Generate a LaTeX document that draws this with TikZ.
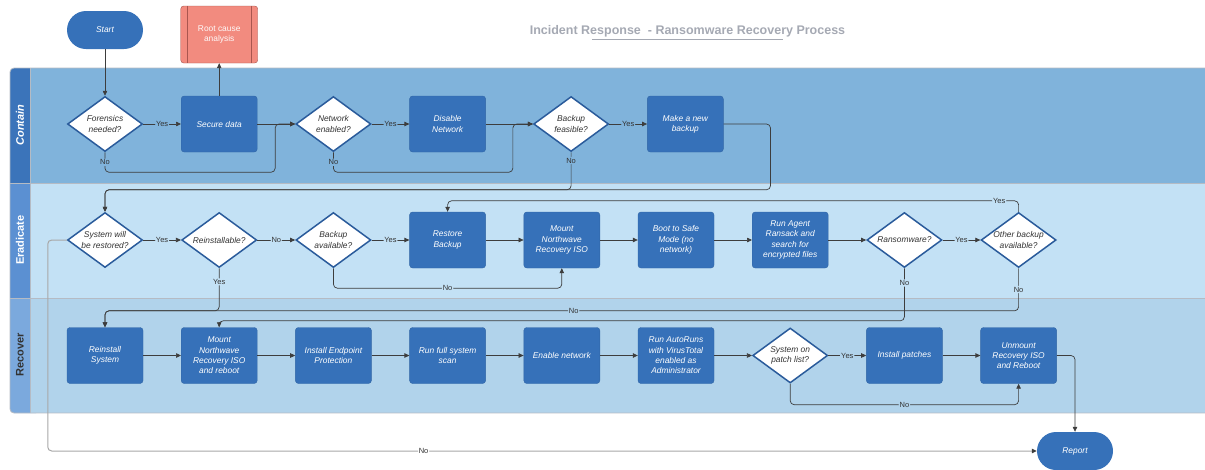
\documentclass[tikz,border=0pt]{standalone}
\usepackage{fontspec}
\setmainfont{Liberation Sans}
\usetikzlibrary{arrows.meta,calc,positioning,shapes.geometric}
\definecolor{boxblue}{HTML}{3671B9}
\definecolor{decborder}{HTML}{2A5B9B}
\definecolor{textgray}{HTML}{333333}
\definecolor{linegray}{HTML}{3D3D3D}
\definecolor{farline}{HTML}{A8A8A8}
\definecolor{titlegray}{HTML}{A5A9B3}
\definecolor{laneline}{HTML}{B5BBC4}
\definecolor{containbg}{HTML}{80B3DB}
\definecolor{containhd}{HTML}{3B74BA}
\definecolor{eradbg}{HTML}{C3E1F5}
\definecolor{eradhd}{HTML}{5B90D2}
\definecolor{recbg}{HTML}{B1D3EB}
\definecolor{rechd}{HTML}{7BA9DD}
\definecolor{rootfill}{HTML}{F28B7F}
\definecolor{rootdraw}{HTML}{A9564F}
\newcommand{\irboxfont}{\fontsize{8.4}{10.3}\selectfont\itshape}
\newcommand{\iranswerfont}{\fontsize{7.5}{9}\selectfont}
\newcommand{\irlanefont}{\fontsize{11}{13}\selectfont\bfseries}
\newcommand{\irtitlefont}{\fontsize{12.5}{15}\selectfont\bfseries}
\tikzset{%
	block/.style    = {draw=boxblue!90!black, fill=boxblue, rectangle, rounded corners=3pt, minimum width=76pt, minimum height=56pt, text=white, font=\irboxfont, align=center, inner sep=1pt}, % Task
	decision/.style = {draw=decborder, fill=white, diamond, aspect=1.36, line width=1.5pt, minimum width=75pt, minimum height=55pt, inner sep=0pt, text=textgray, font=\irboxfont, align=center}, % Question
	terminal/.style = {fill=boxblue, rectangle, rounded corners=19pt, minimum width=76pt, minimum height=38pt, text=white, font=\irboxfont}, % Start / end
	predproc/.style = {draw=rootdraw, fill=rootfill, rectangle, rounded corners=3pt, minimum width=77pt, minimum height=57pt, text=white!95!rootfill, font=\fontsize{8.4}{10.3}\selectfont, align=center},
	answer/.style   = {font=\iranswerfont, text=textgray, inner sep=1pt},
	ansc/.style     = {answer, fill=containbg},
	anse/.style     = {answer, fill=eradbg},
	ansr/.style     = {answer, fill=recbg},
	answ/.style     = {answer, fill=white},
	link/.style     = {draw=linegray, line width=0.7pt, rounded corners=4pt, ->},
	lanetitle/.style = {rotate=90, font=\irlanefont},
	>={Triangle[length=5pt,width=4.5pt]},
}
\begin{document}
\begin{tikzpicture}[x=1pt, y=-1pt, node distance=114.2pt]
	\useasboundingbox (0,0) rectangle (1205,469);
	% swimlanes
	\fill[rechd, rounded corners=4pt] (10,290) rectangle (40,413);
	\fill[containhd, rounded corners=4pt] (10,68) rectangle (40,190);
	\fill[eradhd] (10,183) rectangle (30,298);
	\fill[containbg] (30,68) rectangle (1205,183);
	\fill[eradbg] (30,183) rectangle (1205,298);
	\fill[recbg] (30,298) rectangle (1205,413);
	\draw[laneline, line width=0.8pt, rounded corners=4pt] (1205,68) -- (10,68) -- (10,413) -- (1205,413);
	\draw[laneline, line width=0.8pt] (10,183) -- (1205,183) (10,298) -- (1205,298) (30,68) -- (30,413);
	\node[lanetitle, text=white] (contain) at (20,125) {\itshape Contain};
	\node[lanetitle, text=white] (eradicate) at (20,240) {Eradicate};
	\node[lanetitle, text=textgray] (recover) at (20,355) {Recover};

	% title
	\node[font=\irtitlefont, text=titlegray] (title) at (687.5,31) {Incident Response~~- Ransomware Recovery Process};
	\draw[titlegray, line width=0.7pt] (592,39.5) -- (783,39.5);

	% contain
	\node[terminal] (start) at (105,30) {Start};
	\node[decision] (forens) at (105,124) {Forensics\\needed?};
	\node[block, right of=forens] (secure) {Secure data};
	\node[predproc] (root) at (219.2,34.5) {Root cause\\analysis};
	\draw[rootdraw, line width=0.6pt] ($(root.north west)+(7,0)$) -- ($(root.south west)+(7,0)$);
	\draw[rootdraw, line width=0.6pt] ($(root.north east)+(-7,0)$) -- ($(root.south east)+(-7,0)$);
	\node[decision, right of=secure] (netq) {Network\\enabled?};
	\node[block, right of=netq] (disable) {Disable\\Network};
	\node[decision, right of=disable, node distance=123.5pt] (bakfeas) {Backup\\feasible?};
	\node[block, right of=bakfeas] (newbak) {Make a new\\backup};

	% eradicate
	\node[decision] (restq) at (105,240) {System will\\be restored?};
	\node[decision, right of=restq] (reinst) {Reinstallable?};
	\node[decision, right of=reinst] (bakav) {Backup\\available?};
	\node[block, right of=bakav] (restore) {Restore\\Backup};
	\node[block, right of=restore] (mountiso) {Mount\\Northwave\\Recovery ISO};
	\node[block, right of=mountiso] (safemode) {Boot to Safe\\Mode (no\\network)};
	\node[block, right of=safemode] (ransack) {Run Agent\\Ransack and\\search for\\encrypted files};
	\node[decision, right of=ransack] (ransom) {Ransomware?};
	\node[decision, right of=ransom] (otherbak) {Other backup\\available?};

	% recover
	\node[block] (reinsys) at (105,355.5) {Reinstall\\System};
	\node[block, right of=reinsys] (mountreb) {Mount\\Northwave\\Recovery ISO\\and reboot};
	\node[block, right of=mountreb] (endpoint) {Install Endpoint\\Protection};
	\node[block, right of=endpoint] (fullscan) {Run full system\\scan};
	\node[block, right of=fullscan] (enablenet) {Enable network};
	\node[block, right of=enablenet] (autoruns) {Run AutoRuns\\with VirusTotal\\enabled as\\Administrator};
	\node[decision, right of=autoruns] (patchq) {System on\\patch list?};
	\node[block, right of=patchq] (patches) {Install patches};
	\node[block, right of=patches] (unmount) {Unmount\\Recovery ISO\\and Reboot};
	\node[terminal] (report) at (1075,451) {Report};

	\coordinate (restjoin) at ($(restq.north)+(0,-22)$);
	\coordinate (reinjoin) at ($(reinsys.north)+(0,-16.5)$);
	\coordinate (mrjoin) at ($(mountreb.north)+(0,-6.5)$);

	% connectors
	\draw[link] (start) -- (forens);
	\draw[link] (forens) -- node[ansc] {Yes} (secure);
	\draw[link] (secure) -- (root);
	\draw[link] (secure) -- (netq);
	\draw[link] (forens.south) -- node[ansc] {No} ++(0,20) -| ($(netq.west)+(-20,0)$) -- (netq.west);
	\draw[link] (netq) -- node[ansc] {Yes} (disable);
	\draw[link] (netq.south) -- node[ansc] {No} ++(0,20) -| ($(bakfeas.west)+(-20,0)$) -- (bakfeas.west);
	\draw[link] (disable) -- (bakfeas);
	\draw[link] (bakfeas) -- node[ansc] {Yes} (newbak);
	\draw[link] (bakfeas.south) |- node[ansc, pos=0.11] {No} (restjoin) -- (restq.north);
	\draw[link] (newbak.east) -- ++(47,0) |- (restjoin) -- (restq.north);

	\draw[link] (restq) -- node[anse] {Yes} (reinst);
	\draw[link] (reinst) -- node[anse] {No} (bakav);
	\draw[link] (bakav) -- node[anse] {Yes} (restore);
	\draw[link] (reinst.south) |- node[anse, pos=0.16] {Yes} (reinjoin) -- (reinsys.north);
	\draw[link] (bakav.south) |- node[anse, pos=0.75] {No} ($(mountiso.south)+(0,20)$) -- (mountiso.south);
	\draw[link] (restore) -- (mountiso);
	\draw[link] (mountiso) -- (safemode);
	\draw[link] (safemode) -- (ransack);
	\draw[link] (ransack) -- (ransom);
	\draw[link] (ransom) -- node[anse] {Yes} (otherbak);
	\draw[link] (otherbak.north) |- node[anse, pos=0.517] {Yes} ($(restore.north)+(0,-11)$) -- (restore.north);
	\draw[link] (ransom.south) -- node[anse, pos=0.28] {No} (ransom.south |- mrjoin) -- (mrjoin) -- (mountreb.north);
	\draw[link] (otherbak.south) -- node[anse] {No} (otherbak.south |- reinjoin) -- node[ansr, pos=0.487] {No} (reinjoin) -- (reinsys.north);
	\draw[draw=farline, line width=1pt, rounded corners=4pt, -{Triangle[length=5pt,width=4.5pt,color=linegray]}] (restq.west) -- ++(-19,0) |- node[answ, pos=0.69] {No} (report.west);

	\draw[link] (reinsys) -- (mountreb);
	\draw[link] (mountreb) -- (endpoint);
	\draw[link] (endpoint) -- (fullscan);
	\draw[link] (fullscan) -- (enablenet);
	\draw[link] (enablenet) -- (autoruns);
	\draw[link] (autoruns) -- (patchq);
	\draw[link] (patchq) -- node[ansr] {Yes} (patches);
	\draw[link] (patchq.south) |- node[ansr, pos=0.75] {No} ($(unmount.south)+(0,21)$) -- (unmount.south);
	\draw[link] (patches) -- (unmount);
	\draw[link] (unmount.east) -| (report.north);
\end{tikzpicture}
\end{document}
